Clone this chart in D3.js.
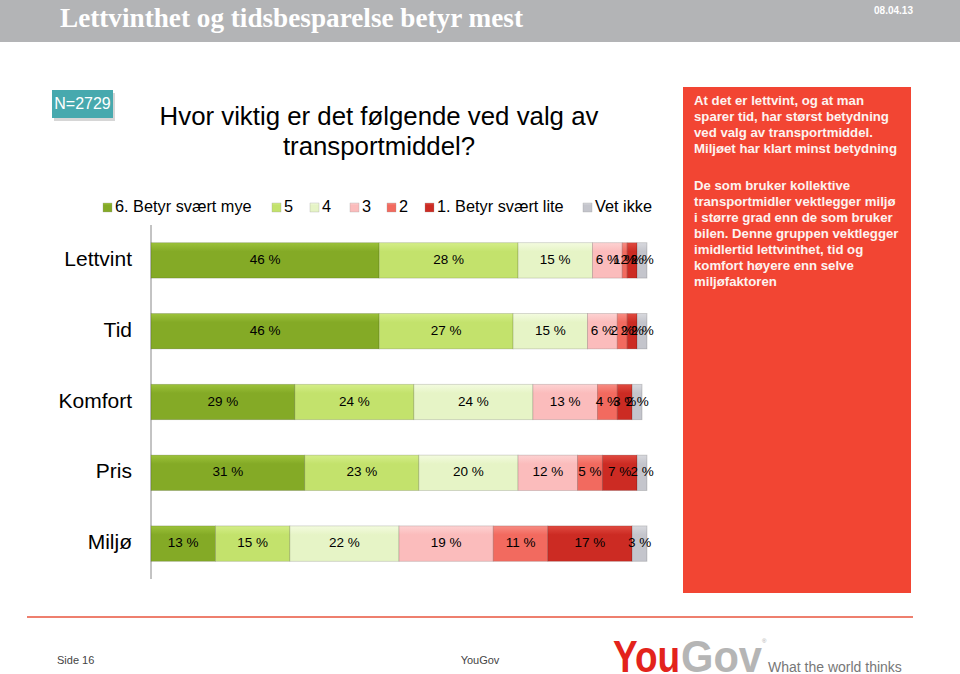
<!DOCTYPE html>
<html><head><meta charset="utf-8">
<script src="https://cdn.jsdelivr.net/npm/d3@7"></script>
<style>body{margin:0;background:#fff;font-family:Arial,"Liberation Sans",sans-serif}</style>
</head><body>
<svg id="c" width="960" height="674"></svg>
<script>
const categories = ["Lettvint","Tid","Komfort","Pris","Miljø"];
const seriesNames = ["6. Betyr svært mye","5","4","3","2","1. Betyr svært lite","Vet ikke"];
const s6 = [46,46,29,31,13];
const s5 = [28,27,24,23,15];
const s4 = [15,15,24,20,22];
const s3 = [6,6,13,12,19];
const s2 = [1,2,4,5,11];
const s1 = [2,2,3,7,17];
const sVet = [2,2,2,2,3];
const seriesValues = [s6,s5,s4,s3,s2,s1,sVet];
const colors = ["#84aa26","#c3e26c","#e6f4c6","#fbbcbc","#f26a5f","#cc2b23","#c4c5cc"];
const colorsTop = ["#9cc23a","#d4ee88","#f3fbdf","#fdd2d2","#f78c83","#e04a40","#d8d9de"];
const rightText1 = ["At det er lettvint, og at man","sparer tid, har størst betydning","ved valg av transportmiddel.","Miljøet har klart minst betydning"];
const rightText2 = ["De som bruker kollektive","transportmidler vektlegger miljø","i større grad enn de som bruker","bilen. Denne gruppen vektlegger","imidlertid lettvinthet, tid og","komfort høyere enn selve","miljøfaktoren"];

const svg = d3.select("#c");
const defs = svg.append("defs");
colors.forEach((c,i)=>{
  const g = defs.append("linearGradient").attr("id","g"+i).attr("x1",0).attr("x2",0).attr("y1",0).attr("y2",1);
  g.append("stop").attr("offset","0").attr("stop-color",colorsTop[i]);
  g.append("stop").attr("offset","0.25").attr("stop-color",c);
  g.append("stop").attr("offset","1").attr("stop-color",c);
});

// header
svg.append("rect").attr("x",0).attr("y",0).attr("width",960).attr("height",42).attr("fill","#b3b4b6");
svg.append("text").attr("x",60).attr("y",21).attr("fill","#fff").attr("font-family","'Liberation Serif','Times New Roman',serif")
  .attr("font-size",27).attr("font-weight","bold").attr("dominant-baseline","middle")
  .attr("textLength",463).attr("lengthAdjust","spacingAndGlyphs").text("Lettvinthet og tidsbesparelse betyr mest");
svg.append("text").attr("x",913).attr("y",14).attr("fill","#fff").attr("font-size",10).attr("font-weight","bold").attr("text-anchor","end").text("08.04.13");

// N badge
svg.append("rect").attr("x",54).attr("y",93).attr("width",61).attr("height",28).attr("fill","#bbb").attr("opacity",0.6);
svg.append("rect").attr("x",52).attr("y",90).attr("width",61).attr("height",28).attr("fill","#47a9ae");
svg.append("text").attr("x",82.5).attr("y",105).attr("fill","#fff").attr("font-size",16).attr("text-anchor","middle").attr("dominant-baseline","middle").text("N=2729");

// question
const q = svg.append("text").attr("fill","#000").attr("font-size",25.8).attr("text-anchor","middle");
q.append("tspan").attr("x",379).attr("y",125).text("Hvor viktig er det følgende ved valg av");
q.append("tspan").attr("x",379).attr("y",155).text("transportmiddel?");

// right panel
svg.append("rect").attr("x",683).attr("y",87).attr("width",228).attr("height",506).attr("fill","#f24533");
rightText1.forEach((t,i)=>svg.append("text").attr("x",694).attr("y",105+i*16).attr("fill","#fdf3f0").attr("font-size",13.2).attr("font-weight","bold").text(t));
rightText2.forEach((t,i)=>svg.append("text").attr("x",694).attr("y",190+i*16).attr("fill","#fdf3f0").attr("font-size",13.2).attr("font-weight","bold").text(t));

// legend
const legendX = [103,272,310,350,387,425,583];
seriesNames.forEach((n,i)=>{
  svg.append("rect").attr("x",legendX[i]).attr("y",203).attr("width",9).attr("height",9).attr("fill","url(#g"+i+")").attr("stroke","#999").attr("stroke-width",0.3);
  svg.append("text").attr("x",legendX[i]+12).attr("y",208).attr("font-size",16.3).attr("dominant-baseline","middle").attr("fill","#000").text(n);
});

// chart
const x = d3.scaleLinear().domain([0,100]).range([151,647]);
const y = d3.scaleBand().domain(categories).range([225,579]).paddingInner(0.5).paddingOuter(0.25);
svg.append("line").attr("x1",151).attr("x2",151).attr("y1",225).attr("y2",579).attr("stroke","#888").attr("stroke-width",1);

categories.forEach((cat,ci)=>{
  let acc = 0;
  const g = svg.append("g");
  seriesValues.forEach((vals,si)=>{
    const v = vals[ci];
    const x0 = x(acc), x1 = x(acc+v);
    g.append("rect").attr("x",x0).attr("y",y(cat)).attr("width",x1-x0).attr("height",y.bandwidth())
      .attr("fill","url(#g"+si+")").attr("stroke","rgba(0,0,0,0.18)").attr("stroke-width",0.8);
    acc += v;
  });
  acc = 0;
  seriesValues.forEach((vals,si)=>{
    const v = vals[ci];
    g.append("text").attr("x",(x(acc)+x(acc+v))/2).attr("y",y(cat)+y.bandwidth()/2)
      .attr("text-anchor","middle").attr("dominant-baseline","middle").attr("font-size",13.5).attr("fill","#000").text(v+" %");
    acc += v;
  });
  svg.append("text").attr("x",132).attr("y",y(cat)+y.bandwidth()/2).attr("text-anchor","end").attr("dominant-baseline","middle")
    .attr("font-size",21).attr("fill","#000").text(cat);
});

// footer
svg.append("line").attr("x1",27).attr("x2",913).attr("y1",617).attr("y2",617).attr("stroke","#e8553e").attr("stroke-width",1.5);
svg.append("text").attr("x",57).attr("y",664).attr("font-size",11).attr("fill","#444").text("Side 16");
svg.append("text").attr("x",480).attr("y",664).attr("font-size",11).attr("fill","#444").attr("text-anchor","middle").text("YouGov");
svg.append("text").attr("x",613).attr("y",672).attr("font-size",44).attr("font-weight","bold").attr("fill","#e3231c")
  .attr("textLength",67).attr("lengthAdjust","spacingAndGlyphs").text("You");
svg.append("text").attr("x",681).attr("y",672).attr("font-size",44).attr("font-weight","bold").attr("fill","#b5b5b5")
  .attr("textLength",81).attr("lengthAdjust","spacingAndGlyphs").text("Gov");
svg.append("text").attr("x",762).attr("y",643).attr("font-size",6).attr("fill","#aaa").text("®");
svg.append("text").attr("x",768).attr("y",672).attr("font-size",14).attr("fill","#777").text("What the world thinks");
</script>
</body></html>
